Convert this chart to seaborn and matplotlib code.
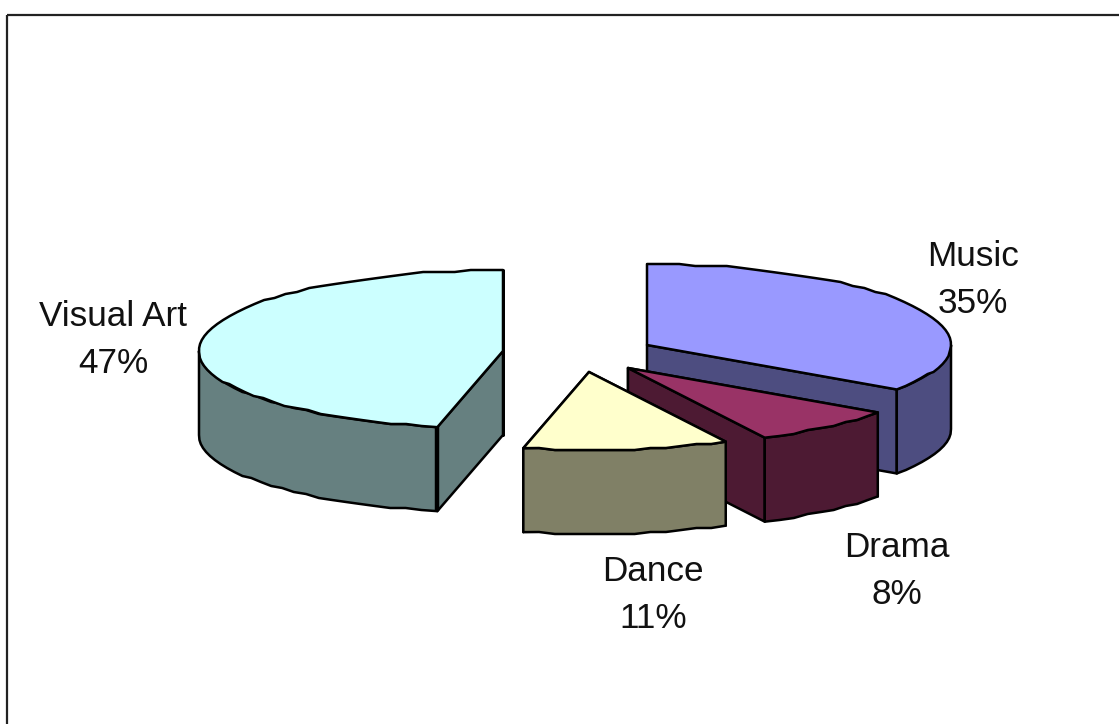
import numpy as np
import matplotlib
matplotlib.use('Agg')
import matplotlib.pyplot as plt
from matplotlib.patches import Polygon, Rectangle
import seaborn as sns

# values, clockwise from 12 o'clock
categories = ['Music', 'Drama', 'Dance', 'Visual Art']
shares = [35, 8, 11, 47]
colours = ['#9999FF', '#993366', '#FFFFCC', '#CCFFFF']

sns.set_theme(style='white')
plt.rcParams['font.family'] = ['Liberation Sans', 'DejaVu Sans']

# =============================================================================
#  Exploded pie geometry (pixel coordinates)
# =============================================================================

apex = {'Music': (647, 345), 'Drama': (628, 368), 'Dance': (589, 372), 'Visual Art': (503, 351)}
label_pos = {'Music': (973, 280), 'Drama': (897, 571), 'Dance': (653, 595), 'Visual Art': (113, 340)}
draw_order = ['Music', 'Visual Art', 'Drama', 'Dance']
rx, ry_back, ry_front, depth = 304, 81, 78, 84
line_w = 1.8

palette = dict(zip(categories, sns.color_palette(colours)))
bounds = np.cumsum([0] + shares) / sum(shares) * 2 * np.pi
angles = {c: (bounds[i], bounds[i + 1]) for i, c in enumerate(categories)}


def rim(cat, t):
    cx, cy = apex[cat]
    c = np.cos(t)
    return cx + rx * np.sin(t), cy - np.where(c > 0, ry_back, ry_front) * c


def arc(cat, a, b):
    # the original outline is slightly stepped, so snap the rim to a small grid
    n = max(int(abs(b - a) / np.radians(3)), 2)
    t = np.linspace(a, b, n + 1)
    x, y = rim(cat, t)
    y[1:-1] = np.round(y[1:-1] / 2) * 2
    return np.column_stack([x, y])


fig = plt.figure(figsize=(11.19, 7.24), dpi=100)
ax = fig.add_axes([0, 0, 1, 1])
ax.set_xlim(0, 1119)
ax.set_ylim(724, 0)
ax.axis('off')

# only the top and left of the chart border are in view
ax.add_patch(Rectangle((6.5, 15), 2000, 2000, fill=False, ec='#222222', lw=1.6))

drop = np.array([0, depth])

for cat in draw_order:
    a, b = angles[cat]
    top = palette[cat]
    side = tuple(v * 0.5 for v in top)
    centre = np.array(apex[cat], dtype=float)
    style = dict(ec='black', lw=line_w, joinstyle='round')

    # flat cut faces
    for t in (a, b):
        p = np.array(rim(cat, t), dtype=float)
        ax.add_patch(Polygon([centre, p, p + drop, centre + drop], fc=side, **style))

    # outer wall, only the part facing the viewer
    lo, hi = max(a, np.pi / 2), min(b, 3 * np.pi / 2)
    if hi > lo:
        edge = arc(cat, lo, hi)
        ax.add_patch(Polygon(np.vstack([edge, (edge + drop)[::-1]]), fc=side, **style))

    # top face
    ax.add_patch(Polygon(np.vstack([centre, arc(cat, a, b)]), fc=top, **style))

    # heavier corner on the large slice
    if cat == 'Visual Art':
        p = np.array(rim(cat, a), dtype=float)
        ax.plot([p[0], p[0]], [p[1], p[1] + depth], color='black', lw=3.2, solid_capstyle='butt')

for cat, share in zip(categories, shares):
    x, y = label_pos[cat]
    ax.text(x, y, f'{cat}\n{share}%', ha='center', va='center', fontsize=25.3,
            color='#111111', linespacing=1.56)

plt.savefig('out.png', dpi=100)
